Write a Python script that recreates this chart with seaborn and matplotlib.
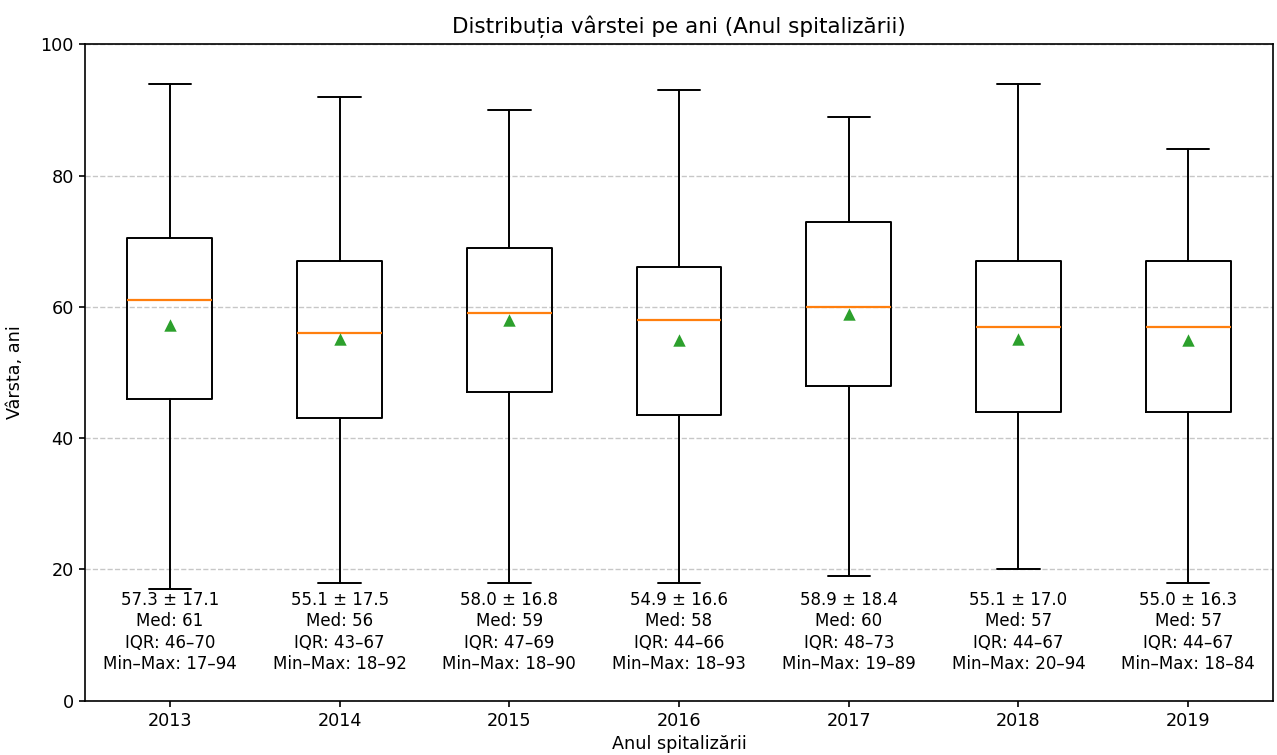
import matplotlib
matplotlib.use("Agg")
import matplotlib.pyplot as plt
import seaborn as sns

# values (ages, per year of hospitalisation)
years = ["2013", "2014", "2015", "2016", "2017", "2018", "2019"]
means = [57.3, 55.1, 58.0, 54.9, 58.9, 55.1, 55.0]
sds = [17.1, 17.5, 16.8, 16.6, 18.4, 17.0, 16.3]
medians = [61, 56, 59, 58, 60, 57, 57]
q1 = [46, 43, 47, 43.5, 48, 44, 44]
q3 = [70.5, 67, 69, 66, 73, 67, 67]
mins = [17, 18, 18, 18, 19, 20, 18]
maxs = [94, 92, 90, 93, 89, 94, 84]

sns.set_style("ticks", rc={"axes.edgecolor": "black", "text.color": "black",
                           "axes.labelcolor": "black", "xtick.color": "black",
                           "ytick.color": "black"})
plt.rcParams["font.family"] = ["DejaVu Sans"]
plt.rcParams["axes.linewidth"] = 1.2

positions = list(range(1, len(years) + 1))
stats = []
for i in range(len(years)):
    stats.append({"med": medians[i], "q1": q1[i], "q3": q3[i],
                  "whislo": mins[i], "whishi": maxs[i], "fliers": [],
                  "label": years[i]})

fig = plt.figure(figsize=(12.77, 7.55), dpi=100)
ax = fig.add_axes([0.0666, 0.0719, 0.9303, 0.8694])

line = {"color": "black", "linewidth": 1.4}
ax.bxp(stats, positions=positions, widths=0.5, showfliers=False,
       boxprops=line, whiskerprops=line, capprops=line,
       medianprops={"color": "#ff7f0e", "linewidth": 1.6})

sns.scatterplot(x=positions, y=means, marker="^", s=80, color="#2ca02c",
                edgecolor="#2ca02c", linewidth=0, zorder=5, ax=ax)

for i, p in enumerate(positions):
    txt = (f"{means[i]:.1f} ± {sds[i]:.1f}\nMed: {medians[i]}\n"
           f"IQR: {q1[i]:.0f}–{q3[i]:.0f}\nMin–Max: {mins[i]}–{maxs[i]}")
    ax.text(p, 16.7, txt, ha="center", va="top", fontsize=12,
            linespacing=1.24, color="black")

ax.set_xlim(0.5, 7.5)
ax.set_ylim(0, 100)
ax.set_xticks(positions)
ax.set_xticklabels(years)
ax.set_yticks([0, 20, 40, 60, 80, 100])
ax.tick_params(labelsize=12.7, length=4.5, width=1.2)
ax.yaxis.grid(True, linestyle="--", color="#b0b0b0", alpha=0.7, linewidth=1.0)
ax.set_axisbelow(True)

ax.set_title("Distribuția vârstei pe ani (Anul spitalizării)", fontsize=15.5, pad=8)
ax.set_xlabel("Anul spitalizării", fontsize=12.7)
ax.set_ylabel("Vârsta, ani", fontsize=12.7, labelpad=12)

fig.savefig("out.png", dpi=100)
